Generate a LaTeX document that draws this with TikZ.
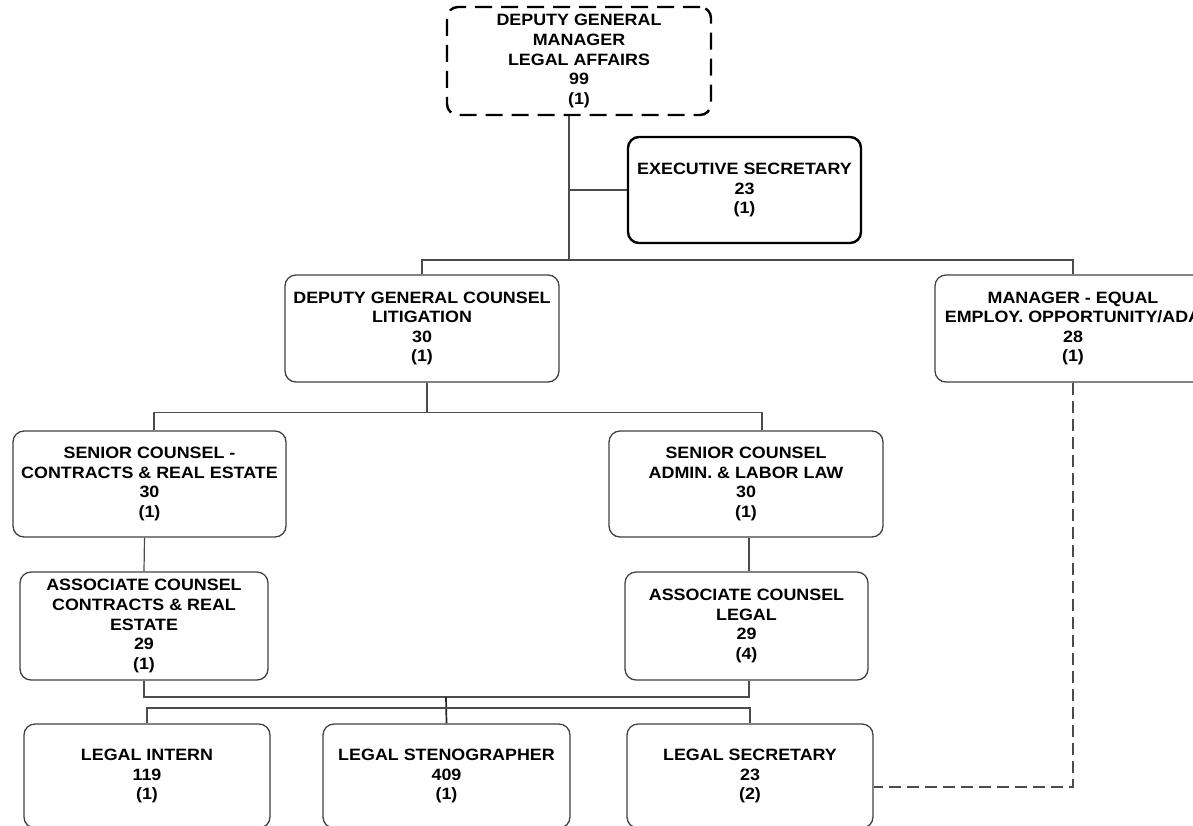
\documentclass[tikz,border=0pt]{standalone}
\usepackage{fontspec}
\setmainfont{Liberation Sans}[FakeStretch=1.09]

\begin{document}
\begin{tikzpicture}[x=1pt, y=-1pt,
  every node/.style={font=\fontsize{16.4}{19.6}\selectfont\bfseries, align=center},
  post/.style={draw=black!75, line width=1.3pt, rounded corners=11pt, inner sep=0pt},
  headbox/.style={post, draw=black, line width=2.4pt, dash pattern=on 17pt off 9pt},
  secbox/.style={post, draw=black, line width=2.4pt},
  link/.style={draw=black!70, line width=1.2pt},
  dotlink/.style={link, line width=1.6pt, dash pattern=on 12pt off 6pt}
]
\useasboundingbox (0,0) rectangle (1193,825);
\clip (0,0) rectangle (1193,825);

% ---- Top of the department ----
\node[headbox, minimum width=264pt, minimum height=108pt] (dgm) at (579,61)
  {DEPUTY GENERAL\\MANAGER\\LEGAL AFFAIRS\\99\\(1)};
\node[secbox, minimum width=233pt, minimum height=106pt] (execsec) at (744.5,190)
  {EXECUTIVE SECRETARY\\23\\(1)};

% ---- Second level ----
\node[post, minimum width=274pt, minimum height=107pt] (dgc) at (422,328.5)
  {DEPUTY GENERAL COUNSEL\\LITIGATION\\30\\(1)};
\node[post, minimum width=276pt, minimum height=107pt] (meeo) at (1073,328.5)
  {MANAGER - EQUAL\\EMPLOY. OPPORTUNITY/ADA\\28\\(1)};

% ---- Senior counsel ----
\node[post, minimum width=273pt, minimum height=106pt] (sccre) at (149.5,484)
  {SENIOR COUNSEL -\\CONTRACTS \& REAL ESTATE\\30\\(1)};
\node[post, minimum width=274pt, minimum height=106pt] (scalw) at (746,484)
  {SENIOR COUNSEL\\ADMIN. \& LABOR LAW\\30\\(1)};

% ---- Associate counsel ----
\node[post, minimum width=248pt, minimum height=108pt] (accre) at (144,626)
  {ASSOCIATE COUNSEL\\CONTRACTS \& REAL\\ESTATE\\29\\(1)};
\node[post, minimum width=243pt, minimum height=108pt] (acl) at (746.5,626)
  {ASSOCIATE COUNSEL\\LEGAL\\29\\(4)};

% ---- Support staff ----
\node[post, minimum width=246pt, minimum height=104pt] (intern) at (147,776)
  {LEGAL INTERN\\119\\(1)};
\node[post, minimum width=247pt, minimum height=104pt] (steno) at (446.5,776)
  {LEGAL STENOGRAPHER\\409\\(1)};
\node[post, minimum width=246pt, minimum height=104pt] (lsec) at (750,776)
  {LEGAL SECRETARY\\23\\(2)};

% ---- Reporting lines ----
\coordinate (hub) at (569,260);
\draw[link] ([xshift=-10pt]dgm.south) -- (hub);
\draw[link] (hub |- execsec.west) -- (execsec.west);
\draw[link] (dgc.north) |- (hub) -| (meeo.north);

\draw[link] ([xshift=5pt]dgc.south) -- ++(0,30) coordinate (lit);
\draw[link] ([xshift=4.5pt]sccre.north) |- (lit) -| ([xshift=16pt]scalw.north);
\draw[link] ([xshift=-5pt]sccre.south) -- (accre.north);
\draw[link] ([xshift=3pt]scalw.south) -- ([xshift=2.5pt]acl.north);

\coordinate (join) at (446,697);
\coordinate (staff) at (446,708);
\draw[link] (accre.south) |- (join) -| ([xshift=2.5pt]acl.south);
\draw[link, line width=1.7pt, draw=black!85] (join) -- (steno.north);
\draw[link] (intern.north) |- (staff) -| (lsec.north);

% dotted-line report to the EEO manager
\draw[dotlink] (meeo.south) |- ([yshift=-11pt]lsec.east);

\end{tikzpicture}
\end{document}
